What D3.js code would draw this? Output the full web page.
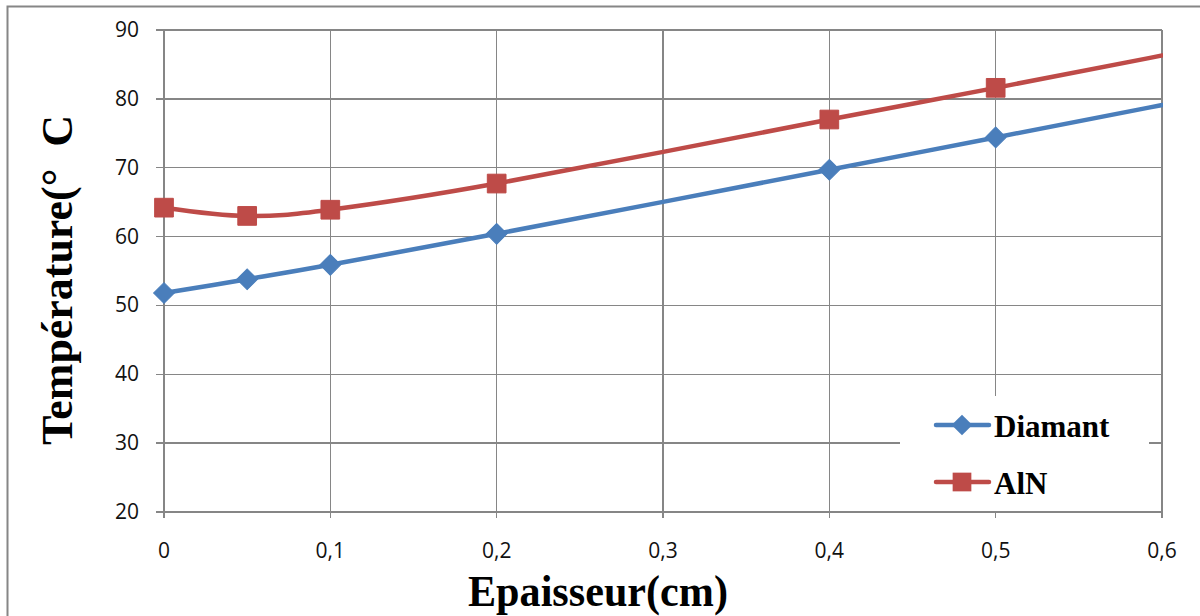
<!DOCTYPE html>
<html><head><meta charset="utf-8">
<script src="https://cdn.jsdelivr.net/npm/d3@7"></script>
<style>body{margin:0;background:#fff}svg{display:block}text{white-space:pre}</style>
</head><body>
<svg id="c" width="1200" height="616"></svg>
<script>
const xValues = [0, 0.05, 0.1, 0.2, 0.4, 0.5, 0.7];
const diamant = [51.8, 53.8, 55.9, 60.4, 69.7, 74.4, 83.8];
const aln = [64.2, 63.0, 63.9, 67.7, 77.0, 81.6, 91.0];
const xTicks = [0, 0.1, 0.2, 0.3, 0.4, 0.5, 0.6];
const xTickLabels = ["0", "0,1", "0,2", "0,3", "0,4", "0,5", "0,6"];
const yTicks = [20, 30, 40, 50, 60, 70, 80, 90];
const seriesNames = ["Diamant", "AlN"];
const xTitle = "Epaisseur(cm)";
const yTitle = "Température(°  C";

const svg = d3.select("#c");
const L = 164, R = 1162, T = 30, B = 512;
const x = d3.scaleLinear().domain([0, 0.6]).range([L, R]);
const y = d3.scaleLinear().domain([20, 90]).range([B, T]);
const grid = "#868686";

// outer frame
svg.append("path").attr("d", "M7.5,616 V6.5 H1200").attr("fill", "none")
  .attr("stroke", grid).attr("stroke-width", 2);

// gridlines
svg.append("g").selectAll("line").data(yTicks).join("line")
  .attr("x1", L - 8).attr("x2", R).attr("y1", d => y(d)).attr("y2", d => y(d))
  .attr("stroke", grid).attr("stroke-width", 1.3).attr("shape-rendering", "crispEdges");
svg.append("g").selectAll("line").data(xTicks).join("line")
  .attr("x1", d => x(d)).attr("x2", d => x(d)).attr("y1", T).attr("y2", B + 6)
  .attr("stroke", grid).attr("stroke-width", 1.3).attr("shape-rendering", "crispEdges");

// tick labels
svg.append("g").selectAll("text").data(yTicks).join("text")
  .attr("x", 139).attr("y", d => y(d) + 7).attr("text-anchor", "end")
  .attr("font-family", "Open Sans, sans-serif").attr("font-size", 21).attr("fill", "#111")
  .text(d => d);
svg.append("g").selectAll("text").data(xTicks).join("text")
  .attr("x", d => x(d)).attr("y", 558).attr("text-anchor", "middle")
  .attr("font-family", "Open Sans, sans-serif").attr("font-size", 21).attr("fill", "#111")
  .text((d, i) => xTickLabels[i]);

// axis titles
svg.append("text").attr("x", 598).attr("y", 606).attr("text-anchor", "middle")
  .attr("font-family", "Liberation Serif, serif").attr("font-weight", "bold").attr("font-size", 44)
  .attr("textLength", 260).attr("lengthAdjust", "spacingAndGlyphs").text(xTitle);
svg.append("text").attr("transform", "translate(72,280) rotate(-90)").attr("text-anchor", "middle")
  .attr("font-family", "Liberation Serif, serif").attr("font-weight", "bold").attr("font-size", 44)
  .attr("textLength", 330).attr("lengthAdjust", "spacingAndGlyphs").text(yTitle);

// clip
svg.append("defs").append("clipPath").attr("id", "pc").append("rect")
  .attr("x", L - 12).attr("y", T - 12).attr("width", R - L + 13).attr("height", B - T + 24);

const colors = ["#4A7EBB", "#BE4B48"];
const data = [diamant, aln];
const line = d3.line().x(d => x(d[0])).y(d => y(d[1])).curve(d3.curveCardinal.tension(0));
const plot = svg.append("g").attr("clip-path", "url(#pc)");

data.forEach((vals, si) => {
  const pts = xValues.map((xv, i) => [xv, vals[i]]);
  plot.append("path").datum(pts).attr("d", line).attr("fill", "none")
    .attr("stroke", colors[si]).attr("stroke-width", 4.5).attr("stroke-linejoin", "round");
});
// markers (only within axis domain)
const diamond = d3.symbol().type(d3.symbolSquare).size(215);
const square = d3.symbol().type(d3.symbolSquare).size(350);
data.forEach((vals, si) => {
  const pts = xValues.map((xv, i) => [xv, vals[i]]).filter(p => p[0] <= 0.6);
  plot.selectAll(null).data(pts).join("path")
    .attr("transform", d => `translate(${x(d[0])},${y(d[1])})` + (si === 0 ? " rotate(45)" : ""))
    .attr("d", si === 0 ? diamond : square)
    .attr("fill", colors[si]).attr("stroke", colors[si]).attr("stroke-width", 1);
});

// legend
const lg = svg.append("g");
lg.append("rect").attr("x", 900).attr("y", 396).attr("width", 249).attr("height", 115).attr("fill", "#fff");
const legY = [425, 482];
seriesNames.forEach((n, i) => {
  lg.append("line").attr("x1", 936).attr("x2", 989).attr("y1", legY[i]).attr("y2", legY[i])
    .attr("stroke", colors[i]).attr("stroke-width", 4.5).attr("stroke-linecap", "round");
  lg.append("path").attr("transform", `translate(962,${legY[i]})` + (i === 0 ? " rotate(45)" : ""))
    .attr("d", i === 0 ? diamond : square).attr("fill", colors[i]);
  lg.append("text").attr("x", 994).attr("y", legY[i] + 12)
    .attr("font-family", "Liberation Serif, serif").attr("font-weight", "bold").attr("font-size", 31)
    .attr("fill", "#000").text(n);
});
</script>
</body></html>
